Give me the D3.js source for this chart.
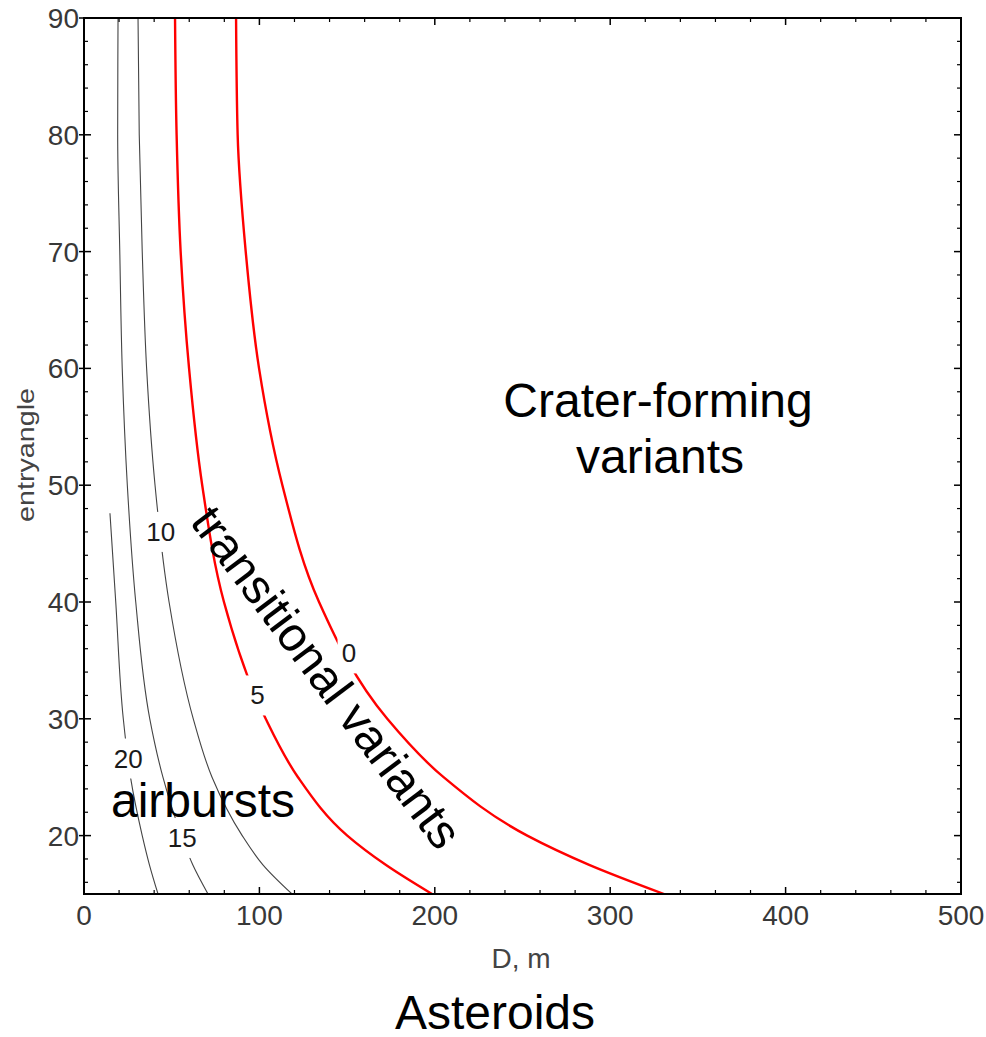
<!DOCTYPE html>
<html>
<head>
<meta charset="UTF-8">
<script src="https://cdn.jsdelivr.net/npm/d3@7"></script>
<style>
  body { margin: 0; background: #fff; }
  text { font-family: "Liberation Sans", Arial, sans-serif; }
</style>
</head>
<body>
<svg id="chart" width="986" height="1037"></svg>
<script>
// contour readings: entry angle (deg) -> diameter D (m)
const angles = [90, 80, 70, 60, 50, 40, 30, 25, 20, 17.5, 15];
const d_c0  = [86.7, 87.6, 92.2, 99.8, 113.1, 134.0, 172.9, 205, 252.7, 288, 330.7];
const d_c5  = [51.9, 52.8, 55.1, 59.9, 67.4, 79.8, 103.6, 122, 150.1, 172, 198.4];
const d_c10 = [30.8, 31.5, 33.2, 35.7, 40.5, 48.5, 62.3, 73, 90.2, 102, 118.6];
const d_c15 = [19.4, 19.2, 20.4, 21.8, 24.7, 29.5, 37.5, 45, 55.5, 62, 70.7];
const angles20 = [47.6, 40, 30, 25, 20, 17.5, 15];
const d_c20 = [14.8, 18.1, 22.4, 26.5, 33.2, 37.3, 42.2];

// contour level, curve, where its label sits (angle)
const contours = [
  {level: "0",  a: angles,   d: d_c0,  red: true,  at: 35.6},
  {level: "5",  a: angles,   d: d_c5,  red: true,  at: 32.0},
  {level: "10", a: angles,   d: d_c10, red: false, at: 46.0},
  {level: "15", a: angles,   d: d_c15, red: false, at: 19.8},
  {level: "20", a: angles20, d: d_c20, red: false, at: 26.6}
];

const xTicks = [0, 100, 200, 300, 400, 500];
const yTicks = [20, 30, 40, 50, 60, 70, 80, 90];

const L = 84, R = 961, T = 18, B = 894;
const svg = d3.select("#chart");
const x = d3.scaleLinear([0, 500], [L, R]);
const y = d3.scaleLinear([15, 90], [B, T]);

svg.append("clipPath").attr("id", "clip")
  .append("rect").attr("x", L).attr("y", T).attr("width", R - L).attr("height", B - T);

// mask cuts the lines under the contour labels
const mask = svg.append("mask").attr("id", "lblmask");
mask.append("rect").attr("x", 0).attr("y", 0).attr("width", 986).attr("height", 1037).attr("fill", "white");

const line = d3.line().curve(d3.curveMonotoneY);
const g = svg.append("g").attr("clip-path", "url(#clip)");

contours.forEach(c => {
  const pts = c.a.map((a, i) => [x(c.d[i]), y(a)]);
  g.append("path")
    .attr("d", line(pts))
    .attr("fill", "none")
    .attr("stroke", c.red ? "#ff0000" : "#444")
    .attr("stroke-width", c.red ? 2.4 : 1.1)
    .attr("mask", "url(#lblmask)");
});

contours.forEach(c => {
  const py = y(c.at);
  let px = x(c.d[0]);
  for (let i = 0; i < c.a.length - 1; i++) {
    if (c.at <= c.a[i] && c.at >= c.a[i + 1]) {
      const t = (c.at - c.a[i]) / (c.a[i + 1] - c.a[i]);
      px = x(c.d[i] + t * (c.d[i + 1] - c.d[i]));
    }
  }
  const w = c.level.length * 15 + 8;
  mask.append("rect").attr("x", px - w / 2).attr("y", py - 20)
    .attr("width", w).attr("height", 40).attr("fill", "black");
  svg.append("text").attr("x", px).attr("y", py + 9)
    .attr("text-anchor", "middle").attr("font-size", 26).attr("fill", "#1a1a1a")
    .text(c.level);
});

// frame
svg.append("rect").attr("x", L).attr("y", T).attr("width", R - L).attr("height", B - T)
  .attr("fill", "none").attr("stroke", "#000").attr("stroke-width", 2);

// ticks (inward on all four sides)
const ticks = svg.append("g").attr("stroke", "#000");
d3.range(0, 501, 20).forEach(v => {
  const major = v % 100 === 0, len = major ? 7 : 4;
  ticks.append("line").attr("x1", x(v)).attr("x2", x(v)).attr("y1", B).attr("y2", B - len).attr("stroke-width", major ? 1.5 : 1.2);
  ticks.append("line").attr("x1", x(v)).attr("x2", x(v)).attr("y1", T).attr("y2", T + len).attr("stroke-width", major ? 1.5 : 1.2);
});
d3.range(16, 91, 2).forEach(v => {
  const major = v % 10 === 0, len = major ? 7 : 4;
  ticks.append("line").attr("y1", y(v)).attr("y2", y(v)).attr("x1", L).attr("x2", L + len).attr("stroke-width", major ? 1.5 : 1.2);
  ticks.append("line").attr("y1", y(v)).attr("y2", y(v)).attr("x1", R).attr("x2", R - len).attr("stroke-width", major ? 1.5 : 1.2);
});
yTicks.forEach(v => ticks.append("line").attr("y1", y(v)).attr("y2", y(v)).attr("x1", L).attr("x2", L - 5).attr("stroke-width", 1.5));

// tick labels
svg.append("g").selectAll("text").data(xTicks).join("text")
  .attr("x", d => x(d)).attr("y", B + 31).attr("text-anchor", "middle")
  .attr("font-size", 28).attr("fill", "#383838").text(d => d);
svg.append("g").selectAll("text").data(yTicks).join("text")
  .attr("x", L - 5).attr("y", d => y(d) + 10).attr("text-anchor", "end")
  .attr("font-size", 28).attr("fill", "#383838").text(d => d);

// axis titles
svg.append("text").attr("x", 521).attr("y", 968).attr("text-anchor", "middle")
  .attr("font-size", 28).attr("fill", "#444").text("D, m");
svg.append("text").attr("transform", "translate(34,455) rotate(-90)").attr("text-anchor", "middle")
  .attr("font-size", 24).attr("fill", "#444")
  .attr("textLength", 134).attr("lengthAdjust", "spacingAndGlyphs").text("entryangle");
svg.append("text").attr("x", 495).attr("y", 1029).attr("text-anchor", "middle")
  .attr("font-size", 48).attr("fill", "#000").text("Asteroids");

// region annotations
svg.append("text").attr("x", 658).attr("y", 417).attr("text-anchor", "middle")
  .attr("font-size", 48).text("Crater-forming");
svg.append("text").attr("x", 660).attr("y", 473).attr("text-anchor", "middle")
  .attr("font-size", 48).text("variants");
svg.append("text").attr("x", 203).attr("y", 817).attr("text-anchor", "middle")
  .attr("font-size", 48).text("airbursts");
svg.append("text").attr("transform", "translate(327,677) rotate(53)").attr("text-anchor", "middle")
  .attr("dy", 17).attr("font-size", 48).text("transitional variants");
</script>
</body>
</html>
